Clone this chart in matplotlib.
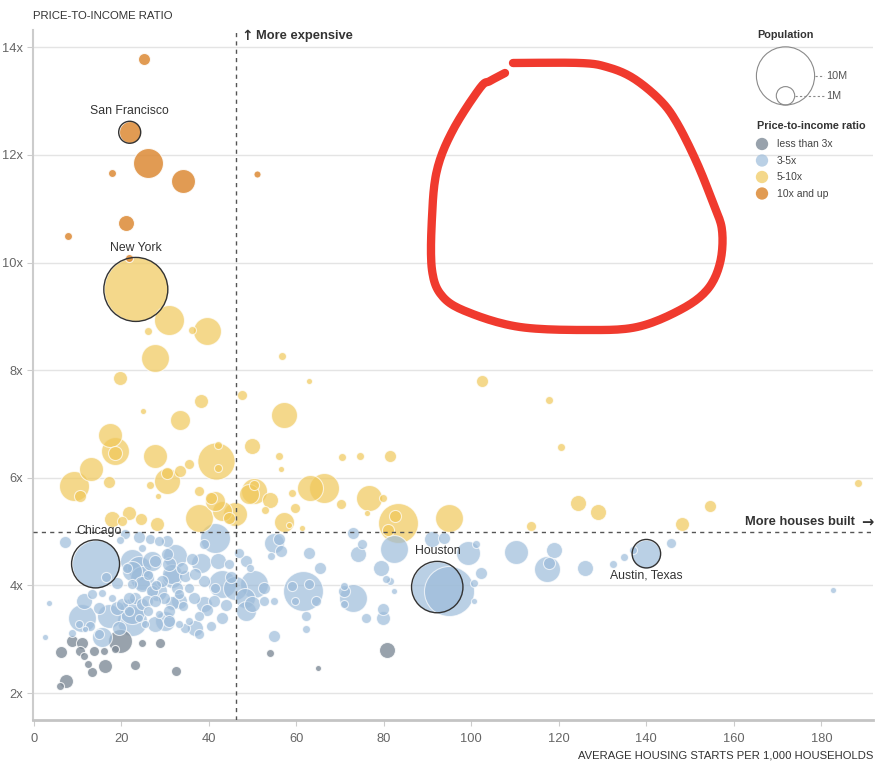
import matplotlib.pyplot as plt
import numpy as np

plt.rcParams['font.family'] = ['Liberation Sans', 'DejaVu Sans']

# average housing starts per 1,000 households, price-to-income ratio, population (millions)
starts = [
    25.1, 26.0, 17.8, 34.0, 50.9, 21.0, 7.7, 21.7,
    30.8, 39.5, 26.0, 36.1, 27.6, 19.6, 24.9, 38.3, 33.5, 17.3,
    18.5, 18.5, 27.6, 13.0, 9.1, 10.5, 17.1, 30.4, 30.4, 33.5,
    35.4, 37.7, 40.6, 41.6, 42.0, 42.2, 26.5, 28.3, 47.5, 56.8,
    62.8, 57.1, 49.8, 56.1, 56.6, 70.5, 74.6, 81.5, 102.5, 117.8,
    120.5, 124.4, 129.0, 113.7, 148.2, 154.6, 188.4, 63.2, 66.4, 50.4,
    50.4, 53.9, 52.9, 59.1, 59.8, 57.1, 76.5, 79.9, 76.2, 83.3,
    82.6, 81.0, 95.0, 58.2, 61.2, 70.3, 37.7, 41.3, 42.9, 44.7,
    45.9, 49.1, 17.8, 21.7, 24.4, 28.1, 20.1,
    110.3, 117.3, 117.8, 118.9, 126.0, 132.4, 134.9, 137.0, 145.6, 182.6,
    95.0, 90.9, 93.8, 99.3, 101.1, 102.3, 100.7, 100.7, 82.4, 79.4,
    80.6, 81.3, 82.4, 79.9, 79.9, 73.0, 74.2, 74.9, 73.0, 71.0,
    70.8, 70.8, 76.0, 65.3, 62.8, 61.6, 58.9, 62.8, 64.4, 59.8,
    62.3, 62.1, 55.0, 54.8, 56.1, 56.6, 54.3, 52.5, 50.4, 49.8,
    52.5, 55.0, 48.2, 48.6, 46.8, 48.6, 49.5, 45.9, 42.9, 41.3,
    41.1, 38.3, 38.8, 41.3, 42.9, 40.6, 44.0,
    7.1, 3.4, 2.5, 11.4, 10.9, 13.2, 15.0, 15.5, 17.8, 17.1,
    20.1, 21.7, 19.4, 14.8, 15.5, 12.8, 11.6, 10.3, 22.4, 24.0,
    24.6, 25.8, 26.9, 29.2, 22.4, 23.1, 24.6, 26.2, 27.6, 29.7,
    30.8, 31.5, 28.5, 31.0, 33.1, 27.6, 25.3, 24.0, 21.7, 20.8,
    19.6, 24.0, 26.5, 28.5, 30.4, 24.6, 30.4, 31.0, 32.2, 33.8,
    36.1, 36.8, 39.0, 35.4, 36.5, 22.4, 21.2, 37.7, 35.4, 33.1,
    36.8, 37.7, 34.5, 8.7, 22.4, 31.5, 34.5, 26.0, 27.8, 34.0,
    39.5, 44.5, 45.0, 19.0, 16.5, 28.0, 32.8,
    24.6, 31.5, 22.4, 18.9, 29.9, 26.9, 33.1, 39.0, 42.2, 28.2,
    6.2, 8.7, 10.9, 10.5, 11.4, 13.7, 16.0, 12.3, 13.2, 16.2,
    18.5, 19.6, 24.6, 23.1, 28.8, 32.4, 7.3, 5.9, 80.8, 53.9,
    65.0,
]
ratio = [
    13.78, 11.84, 11.66, 11.51, 11.64, 10.74, 10.50, 10.09,
    8.94, 8.72, 8.72, 8.75, 8.23, 7.86, 7.25, 7.43, 7.08, 6.80,
    6.50, 6.47, 6.41, 6.17, 5.85, 5.67, 5.93, 5.94, 6.09, 6.13,
    6.26, 5.76, 5.63, 6.32, 6.61, 6.19, 5.87, 5.67, 7.54, 8.27,
    7.80, 7.16, 6.60, 6.41, 6.17, 6.39, 6.41, 6.41, 7.79, 7.45,
    6.58, 5.53, 5.37, 5.11, 5.14, 5.48, 5.91, 5.81, 5.81, 5.76,
    5.87, 5.59, 5.40, 5.72, 5.44, 5.18, 5.63, 5.63, 5.35, 5.16,
    5.29, 5.03, 5.26, 5.13, 5.07, 5.52, 5.26, 5.57, 5.39, 5.26,
    5.33, 5.70, 5.24, 5.35, 5.24, 5.14, 5.20,
    4.62, 4.31, 4.42, 4.66, 4.33, 4.40, 4.53, 4.66, 4.79, 3.92,
    3.90, 4.87, 4.88, 4.60, 4.77, 4.23, 4.05, 3.71, 4.68, 4.33,
    4.12, 4.08, 3.90, 3.56, 3.40, 4.98, 4.59, 4.77, 3.77, 3.90,
    3.99, 3.66, 3.40, 4.33, 4.60, 3.90, 3.99, 4.03, 3.71, 3.71,
    3.43, 3.19, 3.06, 4.79, 4.87, 4.64, 4.55, 3.95, 4.03, 3.66,
    3.71, 3.71, 3.77, 3.53, 4.60, 4.46, 4.33, 3.95, 4.03, 3.95,
    3.71, 4.42, 4.77, 4.88, 3.40, 3.25, 3.64,
    4.81, 3.67, 3.04, 3.71, 3.40, 3.84, 3.58, 3.86, 3.77, 3.43,
    3.66, 3.77, 3.21, 3.10, 3.05, 3.25, 3.19, 3.28, 4.27, 4.33,
    4.03, 3.71, 3.90, 4.08, 4.03, 3.77, 3.66, 3.53, 3.71, 3.77,
    3.53, 3.67, 3.47, 3.34, 3.84, 3.28, 3.28, 3.40, 3.53, 4.95,
    4.85, 4.90, 4.87, 4.83, 4.83, 4.70, 4.59, 4.40, 4.55, 4.33,
    4.49, 4.21, 4.08, 3.95, 3.77, 4.46, 4.33, 3.43, 3.34, 3.28,
    3.21, 3.10, 3.21, 3.12, 3.53, 4.14, 4.18, 4.20, 4.45, 3.62,
    3.55, 4.40, 4.15, 4.05, 4.15, 4.00, 3.95,
    4.14, 4.21, 3.34, 3.58, 3.34, 4.46, 3.71, 3.66, 4.46, 3.90,
    2.76, 2.97, 2.93, 2.78, 2.69, 2.78, 2.78, 2.54, 2.39, 2.50,
    2.82, 2.97, 2.93, 2.52, 2.93, 2.41, 2.22, 2.13, 2.80, 2.74,
    2.46,
]
pop_m = [
    0.43, 2.66, 0.19, 1.7, 0.15, 0.76, 0.19, 0.19,
    2.66, 2.3, 0.19, 0.19, 2.3, 0.58, 0.11, 0.58, 1.18, 1.7,
    2.3, 0.58, 1.7, 1.7, 2.66, 0.43, 0.43, 2.0, 0.43, 0.43,
    0.3, 0.3, 0.43, 4.1, 0.19, 0.19, 0.19, 0.11, 0.3, 0.19,
    0.11, 2.0, 0.76, 0.19, 0.11, 0.19, 0.19, 0.43, 0.43, 0.19,
    0.19, 0.76, 0.76, 0.3, 0.58, 0.43, 0.19, 2.0, 2.66, 2.0,
    0.3, 0.76, 0.19, 0.19, 0.3, 1.18, 2.0, 0.19, 0.11, 4.7,
    0.43, 0.43, 2.3, 0.11, 0.11, 0.3, 2.3, 1.18, 1.18, 0.43,
    1.7, 1.18, 0.76, 0.58, 0.43, 0.58, 0.3,
    1.7, 2.0, 0.43, 0.76, 0.76, 0.19, 0.19, 0.19, 0.3, 0.11,
    7.4, 0.76, 0.43, 1.7, 0.19, 0.43, 0.19, 0.11, 2.3, 0.76,
    0.19, 0.19, 0.11, 0.43, 0.58, 0.43, 0.76, 0.3, 2.3, 0.43,
    0.19, 0.19, 0.3, 0.43, 0.43, 4.7, 0.3, 0.3, 0.3, 0.19,
    0.3, 0.19, 0.43, 1.18, 0.43, 0.43, 0.19, 0.43, 2.3, 0.76,
    0.3, 0.19, 1.18, 1.18, 0.3, 0.43, 0.19, 1.7, 2.3, 0.3,
    0.43, 1.18, 0.3, 2.66, 0.43, 0.3, 0.43,
    0.43, 0.11, 0.11, 0.76, 2.3, 0.3, 0.43, 0.19, 0.19, 1.7,
    0.43, 0.43, 0.58, 0.3, 1.18, 0.3, 0.11, 0.19, 1.18, 1.7,
    0.76, 0.43, 0.43, 0.43, 0.3, 0.43, 0.43, 0.3, 0.43, 0.43,
    0.43, 0.58, 0.19, 0.43, 0.3, 0.76, 0.19, 0.19, 0.3, 0.3,
    0.19, 0.43, 0.3, 0.3, 0.43, 0.19, 0.43, 0.58, 1.7, 0.43,
    0.43, 0.43, 0.43, 0.3, 0.43, 1.7, 0.3, 0.3, 0.19, 0.19,
    0.76, 0.3, 0.3, 0.19, 2.0, 1.18, 0.43, 0.3, 0.43, 0.3,
    0.43, 0.3, 0.43, 0.43, 0.3, 0.3, 0.43,
    1.7, 1.18, 2.66, 0.58, 1.18, 1.18, 0.76, 0.76, 0.76, 1.18,
    0.43, 0.43, 0.43, 0.3, 0.19, 0.3, 0.19, 0.19, 0.3, 0.58,
    0.19, 1.7, 0.19, 0.3, 0.3, 0.3, 0.58, 0.19, 0.76, 0.19,
    0.11,
]

city_names = ["San Francisco", "New York", "Chicago", "Houston", "Austin, Texas"]
city_starts = [21.9, 23.3, 14.1, 92.2, 140.0]
city_ratio = [12.42, 9.50, 4.40, 3.97, 4.59]
city_pop = [1.43, 12.1, 6.8, 7.8, 2.4]
city_offsets = [(0, 21), (0, 41), (3, 33), (1, 36), (0, -22)]

group_labels = ["less than 3x", "3-5x", "5-10x", "10x and up"]
group_colors = ["#7f8b97", "#9dbcda", "#f0c85a", "#dc8a35"]
group_alpha = [0.8, 0.7, 0.7, 0.85]
group_edges = [0, 3, 5, 10, 100]

median_starts = 46.1
median_ratio = 5.0
legend_pops = [10, 1]


def size(p):
    return 175.5 * np.asarray(p)


def group_of(r):
    return np.digitize(r, group_edges[1:-1])


def smooth(px, py, n=12):
    # Catmull-Rom through the hand-traced points
    pts = np.column_stack([px, py]).astype(float)
    pts = np.vstack([pts[0], pts, pts[-1]])
    out = []
    for i in range(1, len(pts) - 2):
        p0, p1, p2, p3 = pts[i - 1], pts[i], pts[i + 1], pts[i + 2]
        for t in np.linspace(0, 1, n, endpoint=False):
            out.append(0.5 * ((2 * p1) + (-p0 + p2) * t + (2 * p0 - 5 * p1 + 4 * p2 - p3) * t ** 2
                              + (-p0 + 3 * p1 - 3 * p2 + p3) * t ** 3))
    out.append(pts[-2])
    out = np.array(out)
    return out[:, 0], out[:, 1]


starts = np.array(starts)
ratio = np.array(ratio)
pop_m = np.array(pop_m)

fig = plt.figure(figsize=(8.84, 7.72), dpi=100)
ax = fig.add_axes([33 / 884, 1 - 720 / 772, 840 / 884, 690 / 772])

# all bubbles, largest first so the small ones stay visible
all_x = np.concatenate([starts, city_starts])
all_y = np.concatenate([ratio, city_ratio])
all_p = np.concatenate([pop_m, city_pop])
is_city = np.r_[np.zeros(len(starts), bool), np.ones(len(city_starts), bool)]
order = np.argsort(-all_p)
for i in order:
    g = group_of(all_y[i])
    ax.scatter(all_x[i], all_y[i], s=size(all_p[i]), color=group_colors[g],
               alpha=group_alpha[g], edgecolors='white', linewidths=0.8, zorder=3)
    if is_city[i]:
        ax.scatter(all_x[i], all_y[i], s=size(all_p[i]), facecolors='none',
                   edgecolors='#333333', linewidths=1.0, zorder=4)

for name, cx, cy, off in zip(city_names, city_starts, city_ratio, city_offsets):
    ax.annotate(name, (cx, cy), xytext=off, textcoords='offset pixels',
                ha='center', va='center', fontsize=8.8, color='#333333', zorder=6)

ax.axvline(median_starts, color='#555555', lw=1, ls=(0, (3, 3)), zorder=5)
ax.axhline(median_ratio, color='#555555', lw=1, ls=(0, (3, 3)), zorder=5)

ax.set_xlim(-0.2, 191.8)
ax.set_ylim(1.5, 14.32)
ax.set_xticks(np.arange(0, 181, 20))
ax.set_yticks(np.arange(2, 15, 2))
ax.set_yticklabels([f"{v}x" for v in range(2, 15, 2)])
ax.grid(axis='y', color='#e4e4e4', lw=1, zorder=0)
ax.set_axisbelow(True)
for side in ['top', 'right']:
    ax.spines[side].set_visible(False)
ax.spines['left'].set_color('#cccccc')
ax.spines['left'].set_linewidth(1.5)
ax.spines['bottom'].set_color('#c4c4c4')
ax.spines['bottom'].set_linewidth(2)
ax.tick_params(axis='both', colors='#cccccc', labelcolor='#666666', labelsize=9.3, length=4)
ax.tick_params(axis='y', pad=3)
ax.tick_params(axis='x', pad=5)

fig.text(33 / 884, 1 - 16 / 772, "PRICE-TO-INCOME RATIO", fontsize=8.2, color='#333333',
         ha='left', va='center')
fig.text(873 / 884, 1 - 755 / 772, "AVERAGE HOUSING STARTS PER 1,000 HOUSEHOLDS", fontsize=8.1,
         color='#333333', ha='right', va='center')

# quadrant notes, arrows in a heavier glyph
ax.annotate("↑", (median_starts, 1), xycoords=('data', 'axes fraction'),
            xytext=(6, -6), textcoords='offset pixels', ha='left', va='center',
            fontsize=10, fontweight='bold', color='#333333', family='DejaVu Sans')
ax.annotate("More expensive", (median_starts, 1), xycoords=('data', 'axes fraction'),
            xytext=(20, -6), textcoords='offset pixels', ha='left', va='center',
            fontsize=9.3, fontweight='bold', color='#333333')
ax.annotate("→", (1, median_ratio), xycoords=('axes fraction', 'data'),
            xytext=(0, 10), textcoords='offset pixels', ha='right', va='center',
            fontsize=10.5, fontweight='bold', color='#333333', family='DejaVu Sans')
ax.annotate("More houses built", (1, median_ratio), xycoords=('axes fraction', 'data'),
            xytext=(-18, 10), textcoords='offset pixels', ha='right', va='center',
            fontsize=9.3, fontweight='bold', color='#333333')

# legend, drawn in pixel units
lg = fig.add_axes([740 / 884, 1 - 210 / 772, 144 / 884, 190 / 772])
lg.set_xlim(740, 884)
lg.set_ylim(210, 20)
lg.axis('off')
lg.text(757, 35, "Population", fontsize=7.8, fontweight='bold', color='#333333', va='center')
for p in legend_pops:
    r = 9.2 * np.sqrt(p)
    cx, cy = 785.5, 105 - r
    lg.scatter(cx, cy, s=size(p), facecolors='none', edgecolors='#8a8a8a', linewidths=0.8)
    lg.plot([cx + r, 824], [cy, cy], color='#8a8a8a', lw=0.8, ls=(0, (2, 2)))
    lg.text(826, cy, f"{p}M", fontsize=7.8, color='#555555', va='center')
lg.text(757, 126, "Price-to-income ratio", fontsize=7.8, fontweight='bold', color='#333333',
        va='center')
for k, (lab, col, a) in enumerate(zip(group_labels, group_colors, group_alpha)):
    y = 144 + 16.5 * k
    lg.scatter(762, y, s=size(0.45), color=col, alpha=a, edgecolors='none')
    lg.text(777, y, lab, fontsize=7.5, color='#444444', va='center')

# red hand-drawn loop over the empty upper-right area
loop_x = [513, 580, 607, 633, 660, 677, 697, 713, 722, 720, 707, 680, 637, 587, 520, 470,
          443, 432, 432, 437, 453, 480, 490, 505]
loop_y = [63, 63, 67, 78, 100, 123, 163, 203, 230, 263, 290, 310, 327, 330, 327, 313,
          297, 270, 217, 170, 130, 88, 81, 73]
sx, sy = smooth(loop_x, loop_y)
fig.add_artist(plt.Line2D(sx / 884, 1 - sy / 772,
                          transform=fig.transFigure, color='#f03a2e', lw=6,
                          solid_capstyle='round', solid_joinstyle='round'))

fig.savefig("out.png", dpi=100)
